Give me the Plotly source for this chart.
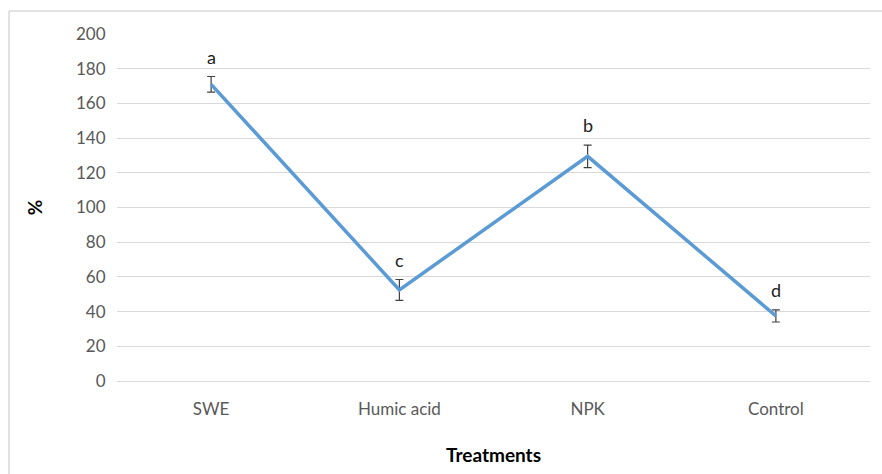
import plotly.graph_objects as go

categories = ["SWE", "Humic acid", "NPK", "Control"]
values = [171, 52.5, 129.5, 37.5]
errors = [4.5, 6.0, 6.5, 3.5]
letters = ["a", "c", "b", "d"]
y_ticks = [0, 20, 40, 60, 80, 100, 120, 140, 160, 180, 200]

FONT = "Lato"

fig = go.Figure()
fig.add_trace(go.Scatter(
    x=categories, y=values, mode="lines",
    line=dict(color="#5B9BD5", width=3.5),
    error_y=dict(type="data", array=errors, visible=True,
                 color="#404040", thickness=1.2, width=4),
    showlegend=False, hoverinfo="skip",
))

for c, v, e, l in zip(categories, values, errors, letters):
    fig.add_annotation(x=c, y=v + e, text=l, showarrow=False,
                       yanchor="bottom", yshift=7,
                       font=dict(family=FONT, size=18, color="#222222"))

W, H = 882, 474
ml, mr, mt, mb = 117, 12, 34, 93
pw = W - ml - mr
ph = H - mt - mb
bx = (9 - ml) / pw
by = (H - mb - 11) / ph
fig.add_shape(type="line", xref="paper", yref="paper",
              x0=bx, x1=1.2, y0=by, y1=by,
              line=dict(color="#D9D9D9", width=1.5))
fig.add_shape(type="line", xref="paper", yref="paper",
              x0=bx, x1=bx, y0=by, y1=-0.5,
              line=dict(color="#D9D9D9", width=1.5))

fig.update_layout(
    width=W, height=H,
    margin=dict(l=ml, r=mr, t=mt, b=mb),
    paper_bgcolor="white", plot_bgcolor="white",
    font=dict(family=FONT),
    xaxis=dict(
        range=[-0.5, 3.5], showgrid=False, zeroline=False,
        showline=False, ticks="outside", ticklen=13,
        tickcolor="rgba(0,0,0,0)",
        tickfont=dict(family=FONT, size=17, color="#595959"),
        title=dict(text="<b>Treatments</b>", standoff=30,
                   font=dict(family=FONT, size=19, color="#000000")),
    ),
    yaxis=dict(
        range=[0, 200], tickvals=y_ticks, showgrid=True,
        gridcolor="#D9D9D9", gridwidth=1, zeroline=True,
        zerolinecolor="#D9D9D9", zerolinewidth=1, showline=False,
        ticks="outside", ticklen=7, tickcolor="rgba(0,0,0,0)",
        tickfont=dict(family=FONT, size=17, color="#595959"),
        title=dict(text="<b>%</b>", standoff=28,
                   font=dict(family=FONT, size=19, color="#000000")),
    ),
)

fig.write_html("out.html", config={"displayModeBar": False},
               post_script="document.body.style.margin='0';document.body.style.padding='0';")
